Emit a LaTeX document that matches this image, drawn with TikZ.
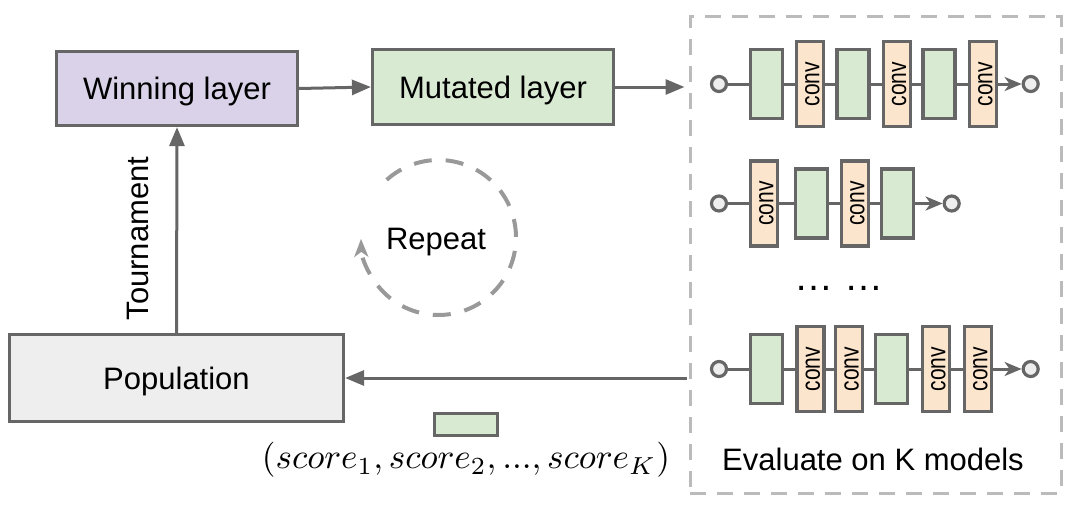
\documentclass[tikz,border=0pt]{standalone}
\usepackage{fontspec}
\setmainfont{Liberation Sans}
\usetikzlibrary{arrows.meta}
\definecolor{bordergray}{HTML}{666666}
\definecolor{greenfill}{HTML}{D9EAD3}
\definecolor{convfill}{HTML}{FCE5CD}
\definecolor{purplefill}{HTML}{D9D2E9}
\definecolor{popfill}{HTML}{EEEEEE}
\definecolor{portfill}{HTML}{EEEEEE}
\definecolor{dashgray}{HTML}{BBBBBB}
\definecolor{repgray}{HTML}{999999}
\newcommand{\convlabel}{\hspace*{5pt}\rotatebox{90}{\scalebox{1}[1.26]{conv}}}
\begin{document}
\begin{tikzpicture}[x=1pt,y=1pt,
  box/.style={draw=bordergray, line width=3.2pt, inner sep=0pt,
    font=\fontsize{31}{36}\selectfont, text height=22.2pt, text depth=0pt},
  gblk/.style={draw=bordergray, fill=greenfill, line width=3.2pt,
    minimum width=32pt, minimum height=69pt, inner sep=0pt},
  cblk/.style={draw=bordergray, fill=convfill, line width=3.2pt,
    minimum width=27pt, minimum height=85pt, inner sep=0pt,
    font=\fontsize{21}{24}\selectfont},
  port/.style={circle, draw=bordergray, fill=portfill, line width=3.2pt,
    minimum size=15pt, inner sep=0pt},
  link/.style={draw=bordergray, line width=3pt},
  flow/.style={draw=bordergray, line width=3pt,
    -{Triangle[length=19pt,width=15pt]}},
  chainarrow/.style={draw=bordergray, line width=3pt,
    -{Stealth[length=17pt,width=14pt,inset=5pt]}},
  lbl/.style={font=\fontsize{31}{36}\selectfont, text height=22.2pt, text depth=0pt, inner sep=0pt}
]
\useasboundingbox (0,0) rectangle (1072,-506);

% main boxes
\node[box, fill=purplefill, minimum width=241pt, minimum height=74pt] (win) at (177,-88.5) {Winning layer};
\node[box, fill=greenfill, minimum width=241pt, minimum height=75pt] (mut) at (493,-87) {Mutated layer};
\node[box, fill=popfill, minimum width=334pt, minimum height=87pt] (pop) at (176.5,-378) {Population};

% evaluation box
\node[draw=dashgray, line width=3pt, dash pattern=on 16pt off 11pt,
  minimum width=371pt, minimum height=477pt, inner sep=0pt] (evalbox) at (875.5,-254.5) {};
\node[lbl] (evaltxt) at (873,-459) {Evaluate on K models};

% main connectors
\draw[flow] (win.east) -- (mut.west);
\draw[flow, shorten >=4pt] (mut.east) -- (evalbox.west |- mut.east);
\draw[flow, shorten <=2pt] (evalbox.west |- pop.east) -- (pop.east);
\draw[flow] (pop.north) -- (win.south);
\node[lbl, rotate=90] (tour) at (137,-238.5) {Tournament};

% repeat
\coordinate (rc) at (438.5,-237.5);
\node[lbl] (rep) at (436,-238) {Repeat};
\draw[repgray, line width=4pt, dash pattern=on 18pt off 14pt,
  -{Stealth[length=18pt,width=14pt,inset=5pt]}]
  ([shift={(132:77.5pt)}]rc) arc[start angle=132, end angle=-179, radius=77.5pt];

% score
\node[draw=bordergray, fill=greenfill, line width=3pt, minimum width=63pt,
  minimum height=22pt, inner sep=0pt] (score) at (466,-424.5) {};
\node[inner sep=0pt] (scoretxt) at (466,-460)
  {\resizebox{408pt}{!}{$(score_1, score_2, ..., score_K)$}};

% chain 1
\node[port] (a0) at (719,-84) {};
\node[gblk] (a1) at (766.7,-84) {};
\node[cblk] (a2) at (810,-84) {\convlabel};
\node[gblk] (a3) at (853,-84) {};
\node[cblk] (a4) at (896.7,-84) {\convlabel};
\node[gblk] (a5) at (939,-84) {};
\node[cblk] (a6) at (982.8,-84) {\convlabel};
\node[port] (a7) at (1030.7,-84) {};
\draw[link] (a0) -- (a1);
\draw[link] (a1) -- (a2);
\draw[link] (a2) -- (a3);
\draw[link] (a3) -- (a4);
\draw[link] (a4) -- (a5);
\draw[link] (a5) -- (a6);
\draw[chainarrow] (a6) -- (a7);

% chain 2
\node[port] (b0) at (719,-203.5) {};
\node[cblk] (b1) at (763.8,-203.5) {\convlabel};
\node[gblk] (b2) at (811.7,-203.5) {};
\node[cblk] (b3) at (855,-203.5) {\convlabel};
\node[gblk] (b4) at (897.8,-203.5) {};
\node[port] (b5) at (951.7,-203.5) {};
\draw[link] (b0) -- (b1);
\draw[link] (b1) -- (b2);
\draw[link] (b2) -- (b3);
\draw[link] (b3) -- (b4);
\draw[chainarrow] (b4) -- (b5);

% dots
\node[font=\fontsize{39}{44}\selectfont, inner sep=0pt] (dots) at (839,-288) {… …};

% chain 3
\node[port] (c0) at (719,-369) {};
\node[gblk] (c1) at (766.7,-369) {};
\node[cblk] (c2) at (810.5,-369) {\convlabel};
\node[cblk] (c3) at (849.2,-369) {\convlabel};
\node[gblk] (c4) at (891.3,-369) {};
\node[cblk] (c5) at (935.8,-369) {\convlabel};
\node[cblk] (c6) at (978,-369) {\convlabel};
\node[port] (c7) at (1030.7,-369) {};
\draw[link] (c0) -- (c1);
\draw[link] (c1) -- (c2);
\draw[link] (c2) -- (c3);
\draw[link] (c3) -- (c4);
\draw[link] (c4) -- (c5);
\draw[link] (c5) -- (c6);
\draw[chainarrow] (c6) -- (c7);
\end{tikzpicture}
\end{document}
